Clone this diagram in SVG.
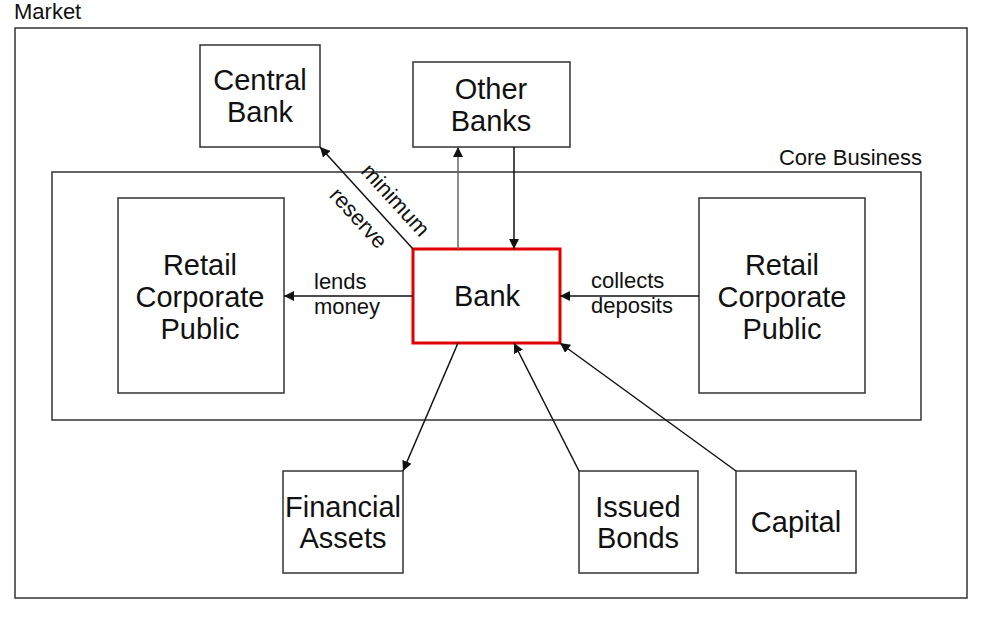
<svg xmlns="http://www.w3.org/2000/svg" width="1000" height="630" viewBox="0 0 1000 630">
<style>
.box{fill:#fff;stroke:#333;stroke-width:1.5}
.frame{fill:none;stroke:#333;stroke-width:1.5}
.lbl{font-family:"Liberation Sans",Arial,sans-serif;font-size:29px;fill:#111;text-anchor:middle}
.sm{font-family:"Liberation Sans",Arial,sans-serif;font-size:22px;fill:#111}
.edge{stroke:#111;stroke-width:1.5;fill:none;marker-end:url(#ah)}
</style>
<defs>
<marker id="ah" viewBox="0 0 10 10" refX="10" refY="5" markerWidth="10" markerHeight="10" markerUnits="userSpaceOnUse" orient="auto">
<path d="M0,0 L10,5 L0,10 z" fill="#111"/>
</marker>
</defs>
<rect width="1000" height="630" fill="#fff"/>
<g id="market">
<rect class="frame" x="15" y="28" width="952" height="570"/>
<text class="sm" x="14" y="19">Market</text>
</g>
<g id="core-business">
<rect class="frame" x="52" y="172" width="869" height="248"/>
<text class="sm" x="922" y="165" text-anchor="end">Core Business</text>
</g>
<g id="central-bank">
<rect class="box" x="200" y="45" width="120" height="102"/>
<text class="lbl" x="260" y="90">Central</text>
<text class="lbl" x="260" y="122">Bank</text>
</g>
<g id="other-banks">
<rect class="box" x="413" y="62" width="157" height="85"/>
<text class="lbl" x="491" y="99">Other</text>
<text class="lbl" x="491" y="131">Banks</text>
</g>
<g id="retail-left">
<rect class="box" x="118" y="198" width="166" height="195"/>
<text class="lbl" x="200" y="275">Retail</text>
<text class="lbl" x="200" y="307">Corporate</text>
<text class="lbl" x="200" y="339">Public</text>
</g>
<g id="retail-right">
<rect class="box" x="699" y="198" width="166" height="195"/>
<text class="lbl" x="782" y="275">Retail</text>
<text class="lbl" x="782" y="307">Corporate</text>
<text class="lbl" x="782" y="339">Public</text>
</g>
<g id="bank">
<rect x="413" y="249" width="147" height="94" fill="#fff" stroke="#e00000" stroke-width="3"/>
<text class="lbl" x="487" y="306">Bank</text>
</g>
<g id="financial-assets">
<rect class="box" x="283" y="471" width="120" height="102"/>
<text class="lbl" x="343" y="517">Financial</text>
<text class="lbl" x="343" y="548">Assets</text>
</g>
<g id="issued-bonds">
<rect class="box" x="579" y="471" width="119" height="102"/>
<text class="lbl" x="638" y="517">Issued</text>
<text class="lbl" x="638" y="548">Bonds</text>
</g>
<g id="capital">
<rect class="box" x="736" y="471" width="120" height="102"/>
<text class="lbl" x="796" y="532">Capital</text>
</g>
<g id="connectors">
<line class="edge" x1="413" y1="249" x2="320" y2="147"/>
<line class="edge" x1="458" y1="249" x2="458" y2="147" style="stroke:#666"/>
<line class="edge" x1="514" y1="147" x2="514" y2="249"/>
<line class="edge" x1="413" y1="296" x2="284" y2="296"/>
<line class="edge" x1="699" y1="296" x2="560" y2="296"/>
<line class="edge" x1="458" y1="343" x2="403" y2="471"/>
<line class="edge" x1="579" y1="471" x2="514" y2="343"/>
<line class="edge" x1="736" y1="471" x2="560" y2="343"/>
<text class="sm" x="314" y="289">lends</text>
<text class="sm" x="314" y="314">money</text>
<text class="sm" x="591" y="288">collects</text>
<text class="sm" x="591" y="313">deposits</text>
<text class="sm" text-anchor="middle" transform="translate(390,205) rotate(47.6)">minimum</text>
<text class="sm" text-anchor="middle" transform="translate(353,223) rotate(47.6)">reserve</text>
</g>
</svg>
